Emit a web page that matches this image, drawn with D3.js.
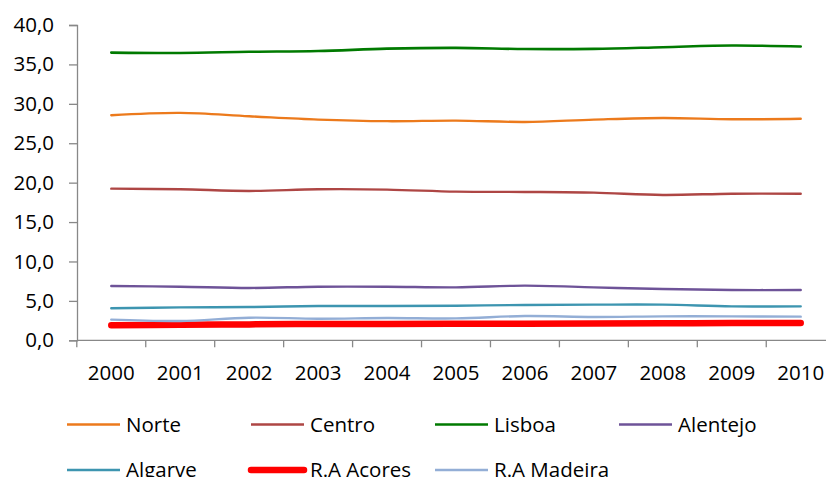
<!DOCTYPE html>
<html><head><meta charset="utf-8">
<script src="https://cdn.jsdelivr.net/npm/d3@7"></script>
<style>html,body{margin:0;padding:0;background:#fff;overflow:hidden}svg{display:block}</style>
</head><body>
<script>
const years = ["2000","2001","2002","2003","2004","2005","2006","2007","2008","2009","2010"];
const yTicks = [0,5,10,15,20,25,30,35,40];
const seriesNames = ["Norte","Centro","Lisboa","Alentejo","Algarve","R.A Acores","R.A Madeira"];
const norte    = [28.55,28.85,28.42,28.0,27.8,27.87,27.7,28.0,28.2,28.04,28.1];
const centro   = [19.24,19.16,18.95,19.16,19.12,18.86,18.82,18.73,18.44,18.6,18.6];
const lisboa   = [36.5,36.45,36.6,36.7,37.0,37.1,36.95,36.97,37.18,37.4,37.27];
const alentejo = [6.89,6.8,6.64,6.8,6.8,6.72,6.93,6.72,6.5,6.38,6.38];
const algarve  = [4.06,4.18,4.22,4.35,4.35,4.39,4.48,4.52,4.52,4.31,4.31];
const acores   = [1.9,1.98,2.02,2.07,2.08,2.1,2.1,2.12,2.15,2.2,2.2];
const madeira  = [2.62,2.45,2.87,2.74,2.83,2.78,3.08,2.96,3.04,3.04,3.0];
const seriesValues = [norte,centro,lisboa,alentejo,algarve,acores,madeira];
const colors = ["#EC7A1C","#AE4644","#007A00","#6E5398","#3D95B0","#FF0000","#93AED6"];
const widths = [2.4,2.4,2.6,2.4,2.4,6.5,2.4];

const W = 826, H = 477;
const font = "'Open Sans', sans-serif";
const svg = d3.select("body").append("svg").attr("width",W).attr("height",H);

const x = d3.scaleBand().domain(years).range([76.8, 835.2]);
const y = d3.scaleLinear().domain([0,40]).range([340.3, 25]);
const axisColor = "#888888";

// y axis
const yAxis = svg.append("g").attr("transform","translate(77,0)")
  .call(d3.axisLeft(y).tickValues(yTicks).tickSize(8).tickPadding(15)
    .tickFormat(d => d3.format(".1f")(d).replace(".",",")));
yAxis.select(".domain").attr("stroke",axisColor).attr("stroke-width",1.3);
yAxis.selectAll(".tick line").attr("stroke",axisColor).attr("stroke-width",1.3);
yAxis.selectAll("text").attr("font-family",font).attr("font-size","20.5px").attr("fill","#000");

// x axis
const xAxisG = svg.append("g").attr("transform","translate(0,340.3)");
xAxisG.append("line").attr("x1",77).attr("x2",W).attr("y1",0).attr("y2",0)
  .attr("stroke",axisColor).attr("stroke-width",1.3);
xAxisG.selectAll(".xt").data(years).enter().append("line")
  .attr("x1",d=>x(d)).attr("x2",d=>x(d)).attr("y1",0).attr("y2",7)
  .attr("stroke",axisColor).attr("stroke-width",1.3);
xAxisG.selectAll(".xl").data(years).enter().append("text")
  .attr("x",d=>x(d)+x.bandwidth()/2).attr("y",40)
  .attr("text-anchor","middle").attr("font-family",font).attr("font-size","20.5px").attr("fill","#000")
  .text(d=>d);

// lines
const line = d3.line().x((d,i)=>x(years[i])+x.bandwidth()/2).y(d=>y(d)).curve(d3.curveCatmullRom.alpha(0));
seriesValues.forEach((vals,k)=>{
  svg.append("path").datum(vals).attr("d",line).attr("fill","none")
    .attr("stroke",colors[k]).attr("stroke-width",widths[k])
    .attr("stroke-linecap","round").attr("stroke-linejoin","round");
});

// legend
const legX = [67,251,435,619];
const legY = [424.5,470];
seriesNames.forEach((name,k)=>{
  const col = k%4, row = Math.floor(k/4);
  const g = svg.append("g").attr("transform",`translate(${legX[col]},${legY[row]})`);
  g.append("line").attr("x1",0).attr("x2",53).attr("y1",0).attr("y2",0)
    .attr("stroke",colors[k]).attr("stroke-width",k===5?6.5:2.6).attr("stroke-linecap",k===5?"round":"butt");
  g.append("text").attr("x",59).attr("y",7.2).attr("font-family",font).attr("font-size","20.5px")
    .attr("fill","#000").text(name);
});
</script>
</body></html>
